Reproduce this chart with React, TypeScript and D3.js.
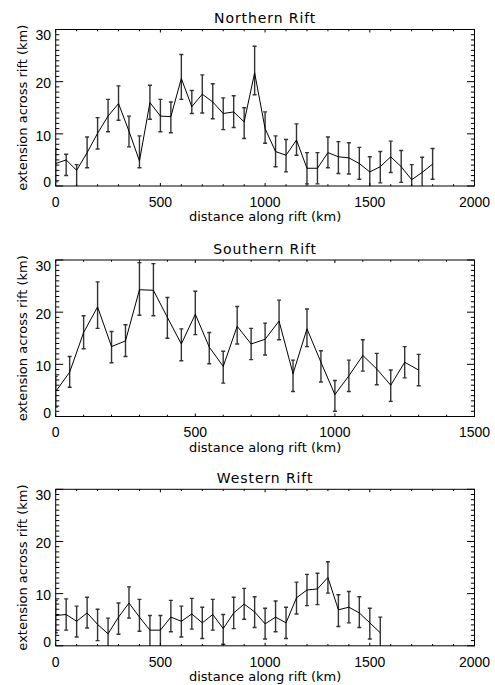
import React from 'react';
import * as d3 from 'd3';

// distances along rift (km) and extension across rift (km) with error limits
const northDist = [0, 50, 100, 150, 200, 250, 300, 350, 400, 450, 500, 550, 600, 650, 700, 750, 800, 850, 900, 950, 1000, 1050, 1100, 1150, 1200, 1250, 1300, 1350, 1400, 1450, 1500, 1550, 1600, 1650, 1700, 1750, 1800];
const northValue = [4.3, 5.0, 3.0, 6.4, 10.1, 13.4, 15.8, 10.5, 4.8, 16.0, 13.4, 13.3, 20.6, 15.2, 17.6, 16.1, 13.9, 14.2, 12.3, 21.7, 11.0, 6.6, 5.9, 8.8, 3.4, 3.4, 6.4, 5.6, 5.4, 4.3, 2.7, 3.7, 5.6, 3.7, 1.2, 2.6, 4.2];
const northHigh = [7.1, 6.1, 4.1, 9.4, 13.1, 16.6, 19.2, 13.4, 9.6, 19.3, 16.6, 16.1, 25.2, 18.3, 21.3, 19.6, 16.9, 17.3, 15.0, 26.8, 14.2, 9.6, 8.9, 11.9, 6.4, 6.4, 9.4, 8.5, 8.3, 7.4, 5.6, 6.6, 8.6, 6.8, 4.1, 5.5, 7.2];
const northLow = [0.8, 2.0, -0.5, 3.5, 7.1, 10.4, 12.6, 7.5, 3.5, 12.8, 10.4, 10.2, 16.6, 13.9, 14.0, 12.9, 10.8, 11.2, 9.1, 17.5, 8.2, 3.7, 2.7, 5.9, 0.4, 0.4, 3.5, 2.4, 2.3, 1.3, -0.3, 0.6, 2.6, 0.7, -1.8, -0.4, 1.3];

const southDist = [0, 50, 100, 150, 200, 250, 300, 350, 400, 450, 500, 550, 600, 650, 700, 750, 800, 850, 900, 950, 1000, 1050, 1100, 1150, 1200, 1250, 1300];
const southValue = [4.8, 8.5, 16.1, 21.0, 13.4, 14.5, 24.3, 24.2, 19.0, 13.9, 19.6, 13.3, 9.6, 17.3, 13.9, 14.8, 18.3, 8.2, 16.8, 10.4, 4.2, 7.8, 11.7, 9.1, 6.0, 10.4, 8.9];
const southHigh = [7.7, 11.5, 19.3, 25.8, 16.3, 17.6, 29.5, 29.3, 22.8, 16.8, 24.0, 16.1, 12.5, 21.1, 16.9, 17.9, 22.3, 10.8, 20.6, 12.6, 6.9, 10.8, 14.7, 12.1, 8.9, 13.4, 11.9];
const southLow = [1.8, 5.6, 13.0, 16.9, 10.3, 11.5, 19.4, 19.3, 15.0, 10.7, 15.7, 10.1, 6.4, 13.9, 10.9, 11.8, 14.7, 4.8, 13.4, 6.6, 1.0, 4.8, 8.7, 6.1, 2.9, 7.4, 5.9];

const westDist = [0, 50, 100, 150, 200, 250, 300, 350, 400, 450, 500, 550, 600, 650, 700, 750, 800, 850, 900, 950, 1000, 1050, 1100, 1150, 1200, 1250, 1300, 1350, 1400, 1450, 1500, 1550];
const westValue = [5.8, 6.0, 4.7, 6.3, 4.1, 2.3, 5.5, 8.2, 5.5, 3.0, 3.0, 5.5, 4.7, 6.1, 4.4, 6.0, 3.3, 6.3, 8.0, 6.5, 4.2, 5.5, 4.4, 9.2, 10.7, 10.9, 13.1, 6.9, 7.4, 6.3, 4.4, 2.5];
const westHigh = [8.7, 9.0, 7.6, 9.3, 7.0, 5.3, 8.2, 11.3, 8.9, 5.8, 5.8, 8.7, 7.6, 9.1, 7.4, 8.9, 6.0, 9.3, 11.0, 9.4, 7.2, 8.6, 7.4, 12.2, 13.7, 13.9, 16.1, 9.8, 10.4, 9.4, 7.2, 5.5];
const westLow = [2.5, 3.0, 1.7, 3.4, 1.0, -0.7, 2.2, 5.3, 2.8, -0.2, -0.2, 2.7, 1.7, 3.2, 1.4, 3.0, 0.3, 3.3, 5.1, 3.5, 1.3, 2.7, 1.4, 6.1, 7.7, 7.9, 10.1, 3.7, 4.4, 3.5, 1.3, -0.5];

const titles = ['Northern Rift', 'Southern Rift', 'Western Rift'];
const xMaxes = [2000, 1500, 2000];
const yMax = 30;

const W = 495;
const H = 685;
const plotLeft = 55.7;
const plotRight = 474.5;
const plotH = 156.5;
const panelTops = [29.5, 260, 489.3];

const numFont = '"Liberation Sans", Arial, sans-serif';
const textFont = '"DejaVu Sans", sans-serif';

type PanelData = { title: string; xMax: number; dist: number[]; value: number[]; low: number[]; high: number[] };

const panels: PanelData[] = [
  { title: titles[0], xMax: xMaxes[0], dist: northDist, value: northValue, low: northLow, high: northHigh },
  { title: titles[1], xMax: xMaxes[1], dist: southDist, value: southValue, low: southLow, high: southHigh },
  { title: titles[2], xMax: xMaxes[2], dist: westDist, value: westValue, low: westLow, high: westHigh },
];

const Panel = ({ p, top, idx }: { p: PanelData; top: number; idx: number }) => {
  const bottom = top + plotH;
  const x = d3.scaleLinear().domain([0, p.xMax]).range([plotLeft, plotRight]);
  const y = d3.scaleLinear().domain([0, yMax]).range([bottom, top]);

  const xMajor = d3.range(0, p.xMax + 1, 500);
  const xMinor = d3.range(0, p.xMax + 1, 100).filter(v => v % 500 !== 0);
  const yMajor = d3.range(0, yMax + 1, 10);
  const yMinor = d3.range(0, yMax + 1, 1).filter(v => v % 10 !== 0);

  const line = d3.line<number>()
    .x((d, i) => x(p.dist[i]))
    .y(d => y(d));

  const clipId = `plot-clip-${idx}`;
  const cx = (plotLeft + plotRight) / 2;
  const cy = (top + bottom) / 2;

  return (
    <g>
      <defs>
        <clipPath id={clipId}>
          <rect x={plotLeft} y={top} width={plotRight - plotLeft} height={plotH} />
        </clipPath>
      </defs>

      {/* title */}
      <text x={cx} y={top - 6.5} textAnchor="middle" fontFamily={textFont} fontSize={14} letterSpacing={0.9}>
        {p.title}
      </text>

      {/* data */}
      <g clipPath={`url(#${clipId})`}>
        {p.dist.map((d, i) => (
          <g key={i} stroke="#333" strokeWidth={1.4}>
            <line x1={x(d)} x2={x(d)} y1={y(p.low[i])} y2={y(p.high[i])} />
            <line x1={x(d) - 2} x2={x(d) + 2} y1={y(p.low[i])} y2={y(p.low[i])} />
            <line x1={x(d) - 2} x2={x(d) + 2} y1={y(p.high[i])} y2={y(p.high[i])} />
          </g>
        ))}
        <path d={line(p.value) || ''} fill="none" stroke="#000" strokeWidth={1} />
      </g>

      {/* ticks, inward on all four sides */}
      <g stroke="#000" strokeWidth={1}>
        {xMajor.map(v => (
          <g key={`xM${v}`}>
            <line x1={x(v)} x2={x(v)} y1={bottom} y2={bottom - 3} />
            <line x1={x(v)} x2={x(v)} y1={top} y2={top + 3} />
          </g>
        ))}
        {xMinor.map(v => (
          <g key={`xm${v}`}>
            <line x1={x(v)} x2={x(v)} y1={bottom} y2={bottom - 1.8} />
            <line x1={x(v)} x2={x(v)} y1={top} y2={top + 1.8} />
          </g>
        ))}
        {yMajor.map(v => (
          <g key={`yM${v}`}>
            <line x1={plotLeft} x2={plotLeft + 7.5} y1={y(v)} y2={y(v)} />
            <line x1={plotRight} x2={plotRight - 7.5} y1={y(v)} y2={y(v)} />
          </g>
        ))}
        {yMinor.map(v => (
          <g key={`ym${v}`}>
            <line x1={plotLeft} x2={plotLeft + 3.6} y1={y(v)} y2={y(v)} />
            <line x1={plotRight} x2={plotRight - 3.6} y1={y(v)} y2={y(v)} />
          </g>
        ))}
      </g>

      <rect x={plotLeft} y={top} width={plotRight - plotLeft} height={plotH} fill="none" stroke="#000" strokeWidth={1} />

      {/* tick labels */}
      {xMajor.map(v => (
        <text key={`xl${v}`} x={x(v)} y={bottom + 20.7} textAnchor="middle" fontFamily={numFont} fontSize={14}>
          {v}
        </text>
      ))}
      {yMajor.map(v => (
        <text
          key={`yl${v}`}
          x={plotLeft - 4.7}
          y={Math.min(Math.max(y(v) + 6.7, top + 10.5), bottom + 1)}
          textAnchor="end"
          fontFamily={numFont}
          fontSize={14}
        >
          {v}
        </text>
      ))}

      {/* axis titles */}
      <text x={cx} y={bottom + 35} textAnchor="middle" fontFamily={textFont} fontSize={13}>
        distance along rift (km)
      </text>
      <text
        transform={`translate(27,${cy}) rotate(-90)`}
        textAnchor="middle"
        fontFamily={textFont}
        fontSize={13}
      >
        extension across rift (km)
      </text>
    </g>
  );
};

export default function App() {
  return (
    <svg
      width={W}
      height={H}
      viewBox={`0 0 ${W} ${H}`}
      style={{ position: 'absolute', left: 0, top: 0, background: '#fff' }}
    >
      <rect width={W} height={H} fill="#fff" />
      {panels.map((p, i) => (
        <Panel key={p.title} p={p} top={panelTops[i]} idx={i} />
      ))}
    </svg>
  );
}
